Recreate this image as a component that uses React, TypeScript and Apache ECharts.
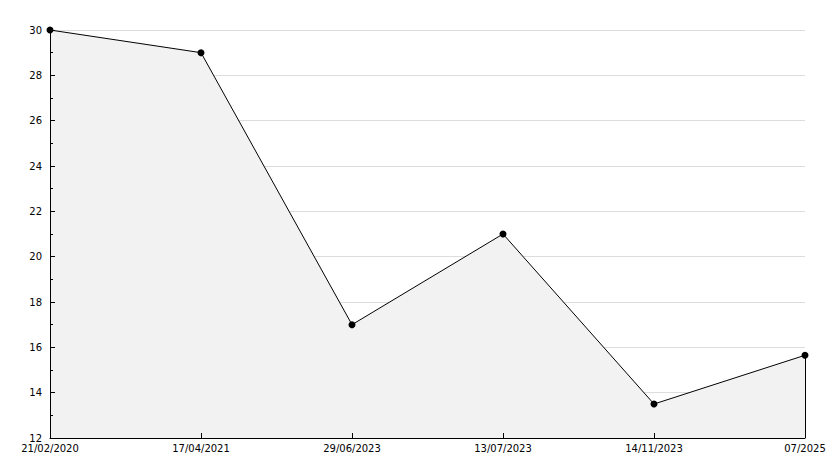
import React, { useEffect, useRef } from "react";
import * as echarts from "echarts";

const categories = ["21/02/2020", "17/04/2021", "29/06/2023", "13/07/2023", "14/11/2023", "07/2025"];
const values = [30, 29, 17, 21, 13.5, 15.65];
const yMin = 12;
const yMax = 30;
const yInterval = 2;
const yMinorInterval = 1;

export default function App() {
  const ref = useRef<HTMLDivElement>(null);
  useEffect(() => {
    if (!ref.current) return;
    const chart = echarts.init(ref.current, null, { renderer: "svg" });
    const lastCat = categories[categories.length - 1];
    const lastVal = values[values.length - 1];
    chart.setOption({
      animation: false,
      textStyle: { fontFamily: "DejaVu Sans" },
      grid: { left: 50, right: 29, top: 30, bottom: 30, containLabel: false },
      xAxis: {
        type: "category",
        data: categories,
        boundaryGap: false,
        z: 5,
        axisLine: { lineStyle: { color: "#000", width: 1 } },
        axisTick: { inside: true, length: 5, lineStyle: { color: "#000" }, alignWithLabel: true },
        axisLabel: { color: "#000", fontSize: 10, margin: 5, fontFamily: "DejaVu Sans" },
        splitLine: { show: false },
      },
      yAxis: [
        {
          type: "value",
          position: "left",
          min: yMin,
          max: yMax,
          interval: yInterval,
          z: 0,
          axisLine: { show: false },
          axisTick: { show: false },
          axisLabel: { color: "#000", fontSize: 10, margin: 8, fontFamily: "DejaVu Sans" },
          splitLine: { show: true, lineStyle: { color: "#dddddd", width: 1 } },
        },
        {
          type: "value",
          position: "left",
          offset: 0,
          min: yMin,
          max: yMax,
          interval: yMinorInterval,
          z: 5,
          axisLine: { show: false },
          axisTick: { show: true, inside: true, length: 3, lineStyle: { color: "#000" } },
          axisLabel: { show: false },
          splitLine: { show: false },
        },
        {
          type: "value",
          position: "left",
          offset: 0,
          min: yMin,
          max: yMax,
          interval: yInterval,
          z: 5,
          axisLine: { show: true, lineStyle: { color: "#000", width: 1 } },
          axisTick: { show: true, inside: true, length: 5, lineStyle: { color: "#000" } },
          axisLabel: { show: false },
          splitLine: { show: false },
        },
      ],
      series: [
        {
          type: "line",
          data: values,
          yAxisIndex: 0,
          z: 2,
          symbol: "circle",
          symbolSize: 7,
          itemStyle: { color: "#000" },
          lineStyle: { color: "#000", width: 1 },
          areaStyle: { color: "#f2f2f2", opacity: 1 },
          markLine: {
            silent: true,
            symbol: ["none", "none"],
            label: { show: false },
            lineStyle: { color: "#000", width: 1, type: "solid" },
            data: [[{ coord: [lastCat, yMin] }, { coord: [lastCat, lastVal] }]],
          },
        },
      ],
    });
    return () => chart.dispose();
  }, []);
  return <div ref={ref} style={{ width: 834, height: 468, position: "absolute", left: 0, top: 0 }} />;
}
